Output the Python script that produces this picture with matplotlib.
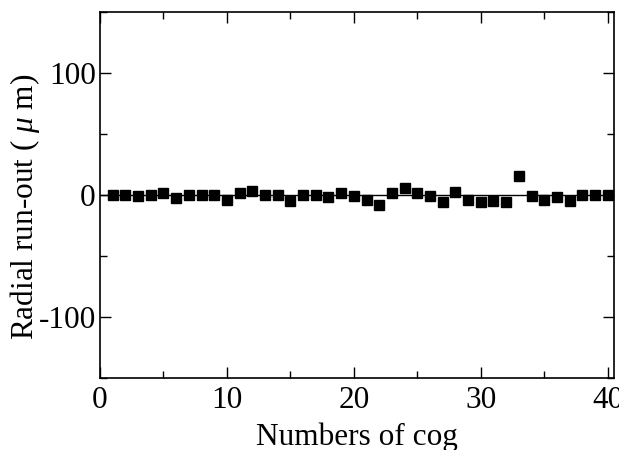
import matplotlib
matplotlib.use("Agg")
import matplotlib.pyplot as plt
from matplotlib.ticker import MultipleLocator

cog = list(range(1, 41))
runout = [0, 0, -1, 0, 1.5, -2, 0, 0, 0, -4,
          2, 3, 0, 0, -5, 0, 0, -1.5, 1.5, -0.5,
          -4, -8, 1.5, 6, 1.5, -0.5, -6, 2.5, -4, -6,
          -5, -6, 16, -0.5, -4, -1.5, -5, 0, 0, 0]

plt.rcParams['font.family'] = ['Liberation Serif', 'DejaVu Serif']
plt.rcParams['mathtext.fontset'] = 'custom'
plt.rcParams['mathtext.rm'] = 'Liberation Serif'
plt.rcParams['mathtext.it'] = 'Liberation Serif:italic'
plt.rcParams['axes.unicode_minus'] = False

fig = plt.figure(figsize=(6.19, 4.5), dpi=100)
ax = fig.add_axes([0.1616, 0.16, 0.8304, 0.813])
ax.axhline(0, color='black', lw=1.0, zorder=1)
ax.plot(cog, runout, linestyle='none', marker='s', markersize=7.2,
        color='black', zorder=3)
ax.set_xlim(0, 40.5)
ax.set_ylim(-150, 150)
ax.xaxis.set_major_locator(MultipleLocator(10))
ax.xaxis.set_minor_locator(MultipleLocator(5))
ax.yaxis.set_major_locator(MultipleLocator(100))
ax.yaxis.set_minor_locator(MultipleLocator(50))
ax.tick_params(which='both', direction='in', top=True, right=True,
               labelsize=22.5, width=1.0)
ax.tick_params(which='major', length=8)
ax.tick_params(which='minor', length=5)
ax.tick_params(axis='x', pad=6)
ax.tick_params(axis='y', pad=3)
for s in ax.spines.values():
    s.set_linewidth(1.2)
ax.set_xlabel('Numbers of cog', fontsize=22.5, labelpad=5)
ax.set_ylabel('Radial run-out ( $\\mu$ m)', fontsize=22.5)
ax.yaxis.set_label_coords(-0.113, 0.467)
fig.savefig('out.png', dpi=100)
